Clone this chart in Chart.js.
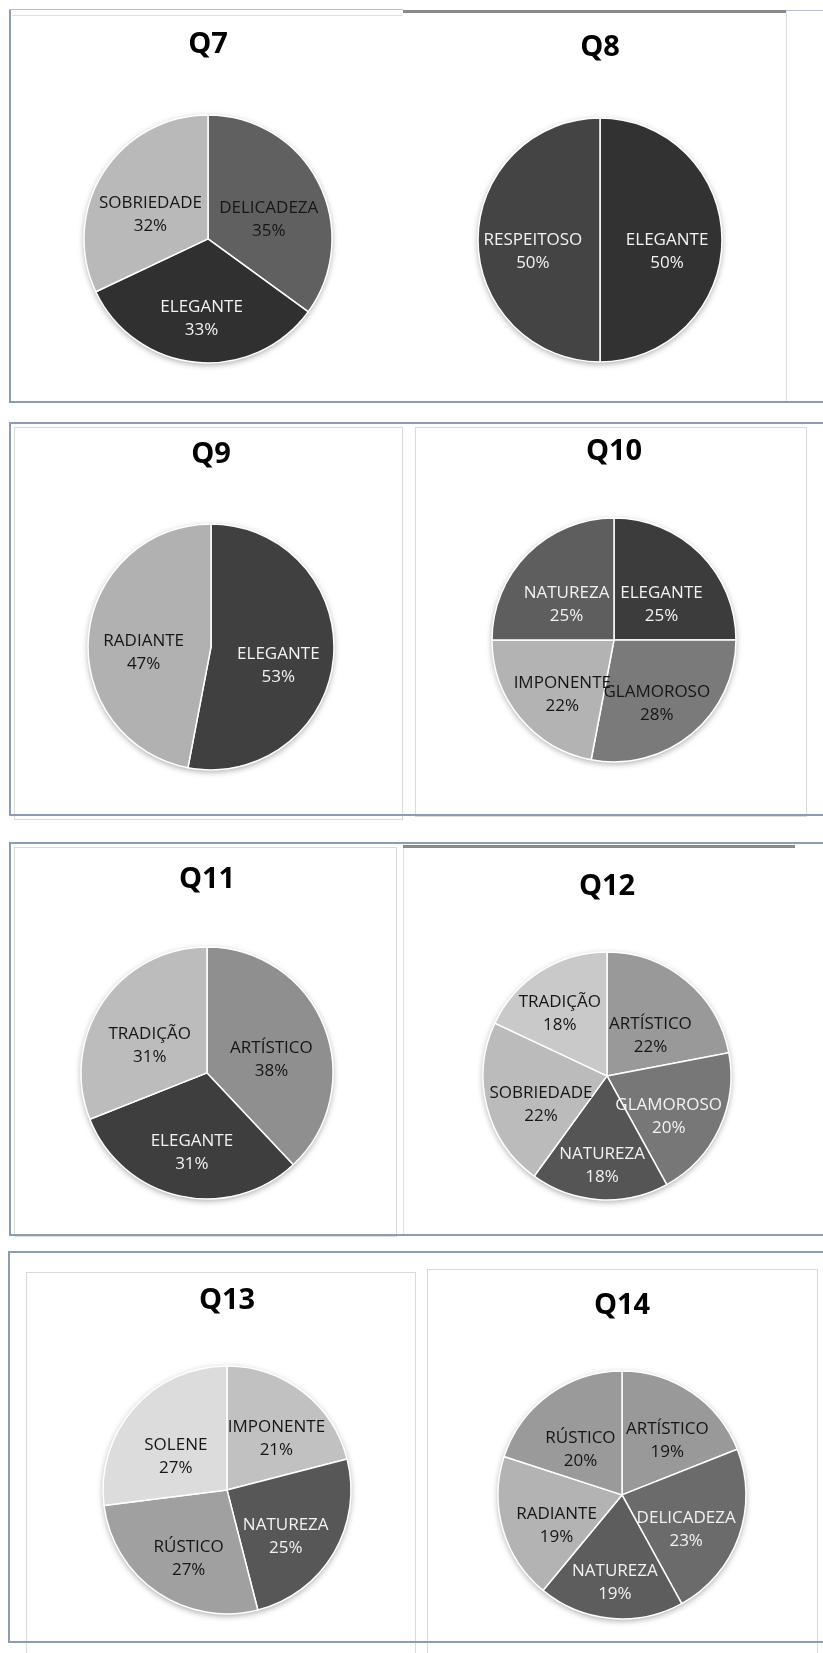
<!DOCTYPE html>
<html>
<head>
<meta charset="utf-8">
<script src="https://cdn.jsdelivr.net/npm/chart.js@4.4.1/dist/chart.umd.min.js"></script>
<style>
  body { margin: 0; background: #fff; }
  #page { position: relative; width: 823px; height: 1653px; overflow: hidden; background: #fff; }
  .ln { position: absolute; }
  .blue { background: #8d9cb6; }
  .pale { background: #b6c1d3; }
  .dark { background: #8a8a8a; }
  .grey { background: #e0e0e0; }
  .box { position: absolute; border: 1px solid #dadada; box-sizing: border-box; }
  canvas { position: absolute; }
</style>
</head>
<body>
<div id="page">
  <!-- row 1 frame -->
  <div class="ln blue" style="left:9px;top:9px;width:1.5px;height:393px"></div>
  <div class="ln pale" style="left:9px;top:9px;width:394px;height:1px"></div>
  <div class="ln grey" style="left:12px;top:15px;width:391px;height:1px"></div>
  <div class="ln dark" style="left:403px;top:10px;width:383px;height:2.5px"></div>
  <div class="ln pale" style="left:786px;top:10px;width:37px;height:1px"></div>
  <div class="ln grey" style="left:786px;top:11px;width:1px;height:391px"></div>
  <div class="ln blue" style="left:9px;top:401px;width:814px;height:2px"></div>

  <!-- row 2 frame -->
  <div class="box" style="left:14px;top:427px;width:389px;height:393px"></div>
  <div class="box" style="left:415px;top:427px;width:392px;height:390px"></div>
  <div class="ln blue" style="left:9px;top:422px;width:814px;height:1.5px"></div>
  <div class="ln blue" style="left:9px;top:422px;width:1.5px;height:393px"></div>
  <div class="ln blue" style="left:9px;top:814px;width:814px;height:1.5px"></div>

  <!-- row 3 frame -->
  <div class="box" style="left:14px;top:847px;width:383px;height:390px"></div>
  <div class="ln grey" style="left:403px;top:845px;width:1px;height:390px"></div>
  <div class="ln blue" style="left:9px;top:842px;width:814px;height:1.5px"></div>
  <div class="ln dark" style="left:403px;top:845px;width:392px;height:2.5px"></div>
  <div class="ln blue" style="left:9px;top:842px;width:1.5px;height:393px"></div>
  <div class="ln blue" style="left:9px;top:1234px;width:814px;height:2px"></div>

  <!-- row 4 frame -->
  <div class="box" style="left:26px;top:1272px;width:390px;height:400px"></div>
  <div class="box" style="left:427px;top:1269px;width:391px;height:400px"></div>
  <div class="ln blue" style="left:8px;top:1251px;width:815px;height:1.5px"></div>
  <div class="ln blue" style="left:8px;top:1251px;width:1.5px;height:391px"></div>
  <div class="ln blue" style="left:8px;top:1641px;width:815px;height:2px"></div>

  <canvas id="q7"></canvas>
  <canvas id="q8"></canvas>
  <canvas id="q9"></canvas>
  <canvas id="q10"></canvas>
  <canvas id="q11"></canvas>
  <canvas id="q12"></canvas>
  <canvas id="q13"></canvas>
  <canvas id="q14"></canvas>
</div>
<script>
// data, slices listed clockwise from 12 o'clock
const q7Labels = ['DELICADEZA', 'ELEGANTE', 'SOBRIEDADE'];
const q7Values = [35, 33, 32];
const q8Labels = ['ELEGANTE', 'RESPEITOSO'];
const q8Values = [50, 50];
const q9Labels = ['ELEGANTE', 'RADIANTE'];
const q9Values = [53, 47];
const q10Labels = ['ELEGANTE', 'GLAMOROSO', 'IMPONENTE', 'NATUREZA'];
const q10Values = [25, 28, 22, 25];
const q11Labels = ['ARTÍSTICO', 'ELEGANTE', 'TRADIÇÃO'];
const q11Values = [38, 31, 31];
const q12Labels = ['ARTÍSTICO', 'GLAMOROSO', 'NATUREZA', 'SOBRIEDADE', 'TRADIÇÃO'];
const q12Values = [22, 20, 18, 22, 18];
const q13Labels = ['IMPONENTE', 'NATUREZA', 'RÚSTICO', 'SOLENE'];
const q13Values = [21, 25, 27, 27];
const q14Labels = ['ARTÍSTICO', 'DELICADEZA', 'NATUREZA', 'RADIANTE', 'RÚSTICO'];
const q14Values = [19, 23, 19, 19, 20];

// slice fills and label ink
const W_INK = '#f2f2f2', D_INK = '#161616';
const q7Colors = ['#606060', '#303030', '#b9b9b9'];
const q7Ink = [D_INK, W_INK, D_INK];
const q8Colors = ['#323232', '#444444'];
const q8Ink = [W_INK, W_INK];
const q9Colors = ['#404040', '#b1b1b1'];
const q9Ink = [W_INK, D_INK];
const q10Colors = ['#3c3c3c', '#7a7a7a', '#b3b3b3', '#5e5e5e'];
const q10Ink = [W_INK, D_INK, D_INK, W_INK];
const q11Colors = ['#8f8f8f', '#3e3e3e', '#bcbcbc'];
const q11Ink = [D_INK, W_INK, D_INK];
const q12Colors = ['#999999', '#777777', '#555555', '#bbbbbb', '#c9c9c9'];
const q12Ink = [D_INK, W_INK, W_INK, D_INK, D_INK];
const q13Colors = ['#c1c1c1', '#575757', '#a0a0a0', '#dcdcdc'];
const q13Ink = [D_INK, W_INK, D_INK, D_INK];
const q14Colors = ['#999999', '#6b6b6b', '#5d5d5d', '#b3b3b3', '#9a9a9a'];
const q14Ink = [D_INK, W_INK, W_INK, D_INK, D_INK];

const charts = [
  { id: 'q7', title: 'Q7', labels: q7Labels, values: q7Values, colors: q7Colors, ink: q7Ink },
  { id: 'q8', title: 'Q8', labels: q8Labels, values: q8Values, colors: q8Colors, ink: q8Ink },
  { id: 'q9', title: 'Q9', labels: q9Labels, values: q9Values, colors: q9Colors, ink: q9Ink },
  { id: 'q10', title: 'Q10', labels: q10Labels, values: q10Values, colors: q10Colors, ink: q10Ink },
  { id: 'q11', title: 'Q11', labels: q11Labels, values: q11Values, colors: q11Colors, ink: q11Ink },
  { id: 'q12', title: 'Q12', labels: q12Labels, values: q12Values, colors: q12Colors, ink: q12Ink },
  { id: 'q13', title: 'Q13', labels: q13Labels, values: q13Values, colors: q13Colors, ink: q13Ink },
  { id: 'q14', title: 'Q14', labels: q14Labels, values: q14Values, colors: q14Colors, ink: q14Ink },
];

// where each chart sits on the page: pie centre, radius, top of title caps
const layout = {
  q7: { x: 208, y: 239, r: 124, top: 35 },
  q8: { x: 600, y: 240, r: 122, top: 38 },
  q9: { x: 211, y: 647, r: 123, top: 445 },
  q10: { x: 614, y: 640, r: 122, top: 442 },
  q11: { x: 207, y: 1073, r: 126, top: 870 },
  q12: { x: 607, y: 1076, r: 124, top: 877 },
  q13: { x: 227, y: 1490, r: 124, top: 1291 },
  q14: { x: 622, y: 1495, r: 124, top: 1296 },
};

const CANVAS_W = 300;
const TITLE_SIZE = 29;
const TITLE_INSET = 8;
const TITLE_GAP = 10;

// soft shadow behind the pie, like the office chart
const pieShadow = {
  id: 'pieShadow',
  beforeDatasetsDraw(chart) {
    const arc = chart.getDatasetMeta(0).data[0];
    if (!arc) return;
    const { x, y, outerRadius } = arc.getProps(['x', 'y', 'outerRadius'], true);
    const ctx = chart.ctx;
    ctx.save();
    ctx.shadowColor = 'rgba(0,0,0,0.35)';
    ctx.shadowBlur = 6;
    ctx.shadowOffsetY = 2;
    ctx.beginPath();
    ctx.arc(x, y, outerRadius, 0, Math.PI * 2);
    ctx.fillStyle = '#ffffff';
    ctx.fill();
    ctx.restore();
  }
};

function insideSlice(px, py, arc) {
  const dx = px - arc.x, dy = py - arc.y;
  if (Math.hypot(dx, dy) > arc.outerRadius - 2) return false;
  let a = Math.atan2(dy, dx);
  while (a < arc.startAngle) a += Math.PI * 2;
  while (a > arc.startAngle + Math.PI * 2) a -= Math.PI * 2;
  return a <= arc.endAngle;
}

// "name / pct%" label inside each slice, pushed outward until it fits
const sliceLabels = {
  id: 'sliceLabels',
  afterDatasetsDraw(chart, args, opts) {
    const ctx = chart.ctx;
    const ds = chart.data.datasets[0];
    ctx.save();
    ctx.font = opts.font;
    ctx.textAlign = 'center';
    ctx.textBaseline = 'middle';
    chart.getDatasetMeta(0).data.forEach((el, i) => {
      const arc = el.getProps(['x', 'y', 'startAngle', 'endAngle', 'outerRadius'], true);
      const name = chart.data.labels[i];
      const pct = ds.data[i] + '%';
      const w = Math.max(ctx.measureText(name).width, ctx.measureText(pct).width);
      const h = opts.lineGap * 2 - 6;
      const mid = (arc.startAngle + arc.endAngle) / 2;
      const at = (f) => [arc.x + Math.cos(mid) * arc.outerRadius * f,
                         arc.y + Math.sin(mid) * arc.outerRadius * f + opts.shift];
      let pos = at(0.55);
      for (let f = 0.55; f <= 0.8; f += 0.02) {
        const [px, py] = at(f);
        const ok = [[-1, -1], [1, -1], [1, 1], [-1, 1]].every(([sx, sy]) =>
          insideSlice(px + sx * w / 2, py + sy * h / 2, arc));
        if (ok) { pos = [px, py]; break; }
      }
      ctx.fillStyle = ds.ink[i];
      ctx.fillText(name, pos[0], pos[1] - opts.lineGap / 2);
      ctx.fillText(pct, pos[0], pos[1] + opts.lineGap / 2);
    });
    ctx.restore();
  }
};

function makeChart(spec) {
  const g = layout[spec.id];
  const canvas = document.getElementById(spec.id);
  const top = g.top - TITLE_INSET;
  const titleBox = TITLE_SIZE * 1.2 + TITLE_GAP;
  canvas.width = CANVAS_W;
  canvas.height = Math.round(2 * (g.y - top) - titleBox);
  canvas.style.left = (g.x - CANVAS_W / 2) + 'px';
  canvas.style.top = top + 'px';

  new Chart(canvas, {
    type: 'pie',
    data: {
      labels: spec.labels,
      datasets: [{
        data: spec.values,
        backgroundColor: spec.colors,
        ink: spec.ink,
        borderColor: '#ffffff',
        borderWidth: 1.5,
        radius: g.r,
      }],
    },
    options: {
      responsive: false,
      animation: false,
      events: [],
      plugins: {
        legend: { display: false },
        tooltip: { enabled: false },
        title: {
          display: true,
          text: spec.title,
          color: '#000000',
          font: { family: '"Open Sans", sans-serif', size: TITLE_SIZE, weight: 'bold' },
          padding: { top: 0, bottom: TITLE_GAP },
        },
        sliceLabels: { font: '17px "Open Sans", sans-serif', lineGap: 23, shift: 12 },
      },
    },
    plugins: [pieShadow, sliceLabels],
  });
}

charts.forEach(makeChart);
</script>
</body>
</html>
